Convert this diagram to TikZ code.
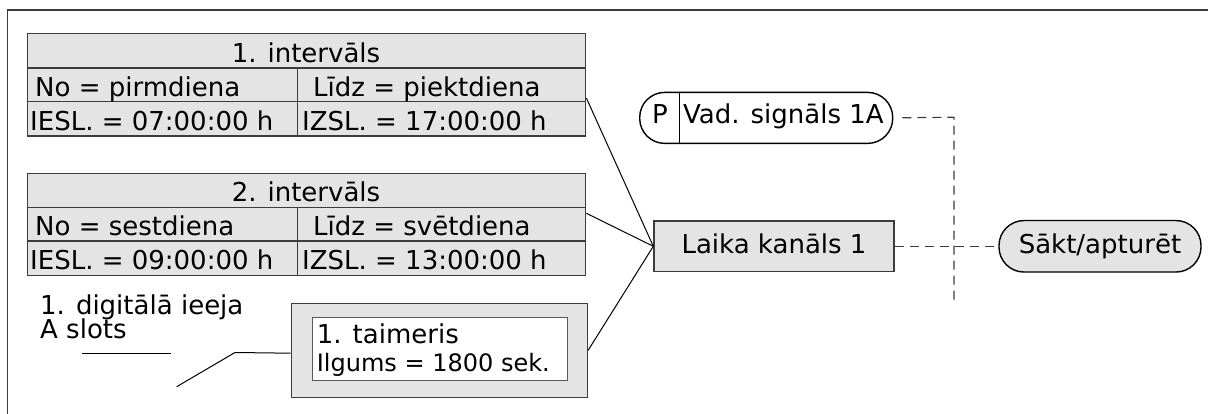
\documentclass[tikz,border=0pt]{standalone}
\usepackage{fontspec}
\setmainfont{DejaVu Sans}
\definecolor{boxfill}{RGB}{228,228,228}
\definecolor{edge}{RGB}{60,60,60}
\begin{document}
\begin{tikzpicture}[x=1pt,y=-1pt,
  cell/.style={draw=edge, fill=boxfill, line width=1.4pt, inner sep=0pt, anchor=north west},
  txt/.style={inner sep=0pt, font=\fontsize{26}{30}\selectfont},
  txtbox/.style={font=\fontsize{26}{30}\selectfont, text height=19pt, text depth=5pt, inner sep=0pt},
  pill/.style={draw=black, line width=1.4pt, rounded corners=25pt, inner sep=0pt},
  conn/.style={line width=1pt, black},
  dconn/.style={line width=1.2pt, edge, dash pattern=on 9pt off 6pt},
]
\useasboundingbox (0,0) rectangle (1208,414);

% frame
\coordinate (f1) at (7.3,414);
\coordinate (f2) at (7.3,10);
\coordinate (f3) at (1208,10);
\draw[line width=1.5pt, edge] (f1) -- (f2) -- (f3);

% table 1
\node[cell, minimum width=558pt, minimum height=34.6pt] (t1h) at (27,32.7) {};
\node[cell, minimum width=270pt, minimum height=33.7pt] (t1a) at (27,67.3) {};
\node[cell, minimum width=288pt, minimum height=33.7pt] (t1b) at (297,67.3) {};
\node[cell, minimum width=270pt, minimum height=34.3pt] (t1c) at (27,101) {};
\node[cell, minimum width=288pt, minimum height=34.3pt] (t1d) at (297,101) {};
\node[txt, anchor=base] (t1ht) at (306,62.3) {1. intervāls};
\node[txt, anchor=base west] (t1at) at (35,96.5) {No = pirmdiena};
\node[txt, anchor=base west] (t1bt) at (313,96.5) {Līdz = piektdiena};
\node[txt, anchor=base west] (t1ct) at (30,130.5) {IESL. = 07:00:00 h};
\node[txt, anchor=base west] (t1dt) at (302,130.5) {IZSL. = 17:00:00 h};

% table 2
\node[cell, minimum width=558pt, minimum height=34pt] (t2h) at (27,172.7) {};
\node[cell, minimum width=270pt, minimum height=33.6pt] (t2a) at (27,206.7) {};
\node[cell, minimum width=288pt, minimum height=33.6pt] (t2b) at (297,206.7) {};
\node[cell, minimum width=270pt, minimum height=34.7pt] (t2c) at (27,240.3) {};
\node[cell, minimum width=288pt, minimum height=34.7pt] (t2d) at (297,240.3) {};
\node[txt, anchor=base] (t2ht) at (306,201.5) {2. intervāls};
\node[txt, anchor=base west] (t2at) at (35,235.5) {No = sestdiena};
\node[txt, anchor=base west] (t2bt) at (313,235.5) {Līdz = svētdiena};
\node[txt, anchor=base west] (t2ct) at (30,269.5) {IESL. = 09:00:00 h};
\node[txt, anchor=base west] (t2dt) at (302,269.5) {IZSL. = 13:00:00 h};

% digital input label
\node[txt, anchor=base west] (di1) at (40,314) {1. digitālā ieeja};
\node[txt, anchor=base west] (di2) at (40,338) {A slots};
\coordinate (u1) at (82,353);
\coordinate (u2) at (171,353);
\draw[conn] (u1) -- (u2);

% timer
\node[cell, minimum width=296pt, minimum height=94pt] (timer) at (290.7,302.7) {};
\node[draw=edge!85, fill=white, line width=1pt, inner sep=0pt, minimum width=254.4pt, minimum height=62.7pt, anchor=north west] (tin) at (312.3,317.3) {};
\node[txt, anchor=base west] (tt1) at (316.7,343.5) {1. taimeris};
\node[inner sep=0pt, font=\fontsize{24}{28}\selectfont, anchor=base west] (tt2) at (316.7,371.5) {Ilgums = 1800 sek.};

% time channel
\node[draw=edge, fill=boxfill, line width=1.4pt, txtbox, minimum width=240pt, minimum height=50.5pt, anchor=west] (laika) at (653.3,246.3) {Laika kanāls 1};

% start/stop
\node[pill, fill=boxfill, txtbox, minimum width=202pt, minimum height=51.5pt, anchor=west] (sakt) at (998.3,246.3) {Sākt/apturēt};

% control signal
\node[pill, fill=white, minimum width=253pt, minimum height=51pt, anchor=north west] (sig) at (639,91.7) {};
\draw[line width=1.2pt] ([xshift=40.3pt]sig.north west) -- ([xshift=40.3pt]sig.south west);
\node[txt, anchor=base] (pt) at (660,124) {P};
\node[txt, anchor=base west] (vt) at (683,124) {Vad. signāls 1A};

% connectors
\draw[conn] ([yshift=4.3pt]t1b.south east) -- (laika.west);
\draw[conn] ([yshift=-6.6pt]t2b.north east) -- (laika.west);
\draw[conn] (timer.east) -- (laika.west);
\coordinate (d1) at (235,352.5);
\coordinate (d2) at (176.7,386.7);
\draw[conn] ([yshift=-2.8pt]timer.west) -- (d1) -- (d2);

% dashed
\coordinate (c1) at (954,117.2);
\coordinate (c2) at (954,303);
\draw[dconn, shorten <=9pt] (sig.east) -- (c1) -- (c2);
\draw[dconn] (laika.east) -- (sakt.west);
\end{tikzpicture}
\end{document}
